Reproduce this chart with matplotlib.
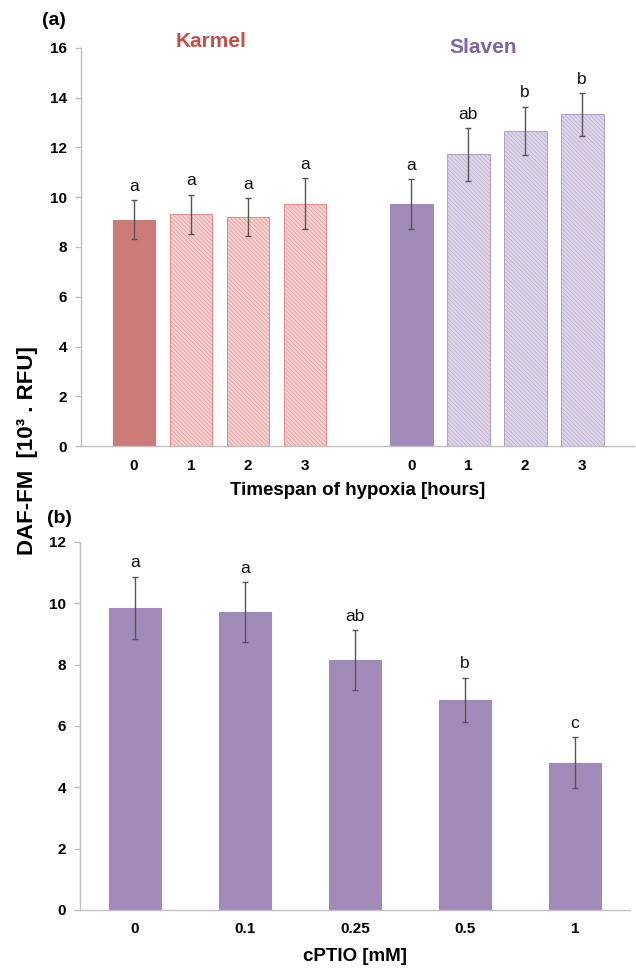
import matplotlib
matplotlib.use("Agg")
import matplotlib.pyplot as plt
import numpy as np

plt.rcParams['font.family'] = ['Liberation Sans', 'DejaVu Sans']
plt.rcParams['hatch.linewidth'] = 0.35

# ---- Panel (a) data ----
hours_labels = ["0", "1", "2", "3", "0", "1", "2", "3"]
karmel_vals = [9.1, 9.32, 9.21, 9.74]
karmel_err = [0.77, 0.79, 0.75, 1.03]
karmel_sig = ["a", "a", "a", "a"]
slaven_vals = [9.72, 11.72, 12.66, 13.34]
slaven_err = [1.0, 1.05, 0.98, 0.86]
slaven_sig = ["a", "ab", "b", "b"]

# ---- Panel (b) data ----
cptio_labels = ["0", "0.1", "0.25", "0.5", "1"]
cptio_vals = [9.85, 9.72, 8.15, 6.86, 4.8]
cptio_err = [1.02, 0.98, 0.97, 0.72, 0.83]
cptio_sig = ["a", "a", "ab", "b", "c"]

red_solid = "#CD7B78"
red_light = "#F2CFCE"
red_edge = "#E28F8D"
pur_solid = "#A08AB8"
pur_light = "#DDD4E8"
pur_edge = "#B3A2C9"
spine_c = "#BFBFBF"

fig = plt.figure(figsize=(6.36, 9.69), dpi=100)

# ================= Panel (a) =================
ax1 = fig.add_axes([0.1274, 0.5397, 0.8696, 0.4108])
kpos = np.arange(4)
spos = np.arange(4) + 4.86
w = 0.75
for i, (p, v) in enumerate(zip(kpos, karmel_vals)):
    if i == 0:
        ax1.bar(p, v, w, color=red_solid, edgecolor=red_solid, linewidth=0.8)
    else:
        ax1.bar(p, v, w, color=red_light, edgecolor=red_edge, hatch="\\\\\\\\\\\\\\\\", linewidth=0.8)
for i, (p, v) in enumerate(zip(spos, slaven_vals)):
    if i == 0:
        ax1.bar(p, v, w, color=pur_solid, edgecolor=pur_solid, linewidth=0.8)
    else:
        ax1.bar(p, v, w, color=pur_light, edgecolor=pur_edge, hatch="\\\\\\\\\\\\\\\\", linewidth=0.8)
allpos = np.concatenate([kpos, spos])
allvals = karmel_vals + slaven_vals
allerr = karmel_err + slaven_err
allsig = karmel_sig + slaven_sig
ax1.errorbar(allpos, allvals, yerr=allerr, fmt="none", ecolor="#555555",
             elinewidth=1.0, capsize=2, capthick=1.0)
for p, v, e, s in zip(allpos, allvals, allerr, allsig):
    ax1.text(p, v + e + 0.25, s, ha="center", va="bottom", fontsize=12.5, color="#111111")

ax1.set_xlim(-0.93, 8.77)
ax1.set_ylim(0, 16)
ax1.set_yticks(np.arange(0, 17, 2))
ax1.set_xticks(allpos)
ax1.set_xticklabels(hours_labels)
ax1.set_xlabel("Timespan of hypoxia [hours]", fontsize=13.5, fontweight="bold", labelpad=7)
ax1.text(1.35, 16.25, "Karmel", ha="center", va="center", fontsize=15,
         fontweight="bold", color="#C0504D", clip_on=False)
ax1.text(6.12, 16.0, "Slaven", ha="center", va="center", fontsize=15,
         fontweight="bold", color="#8064A2", clip_on=False)

# ================= Panel (b) =================
ax2 = fig.add_axes([0.1258, 0.0609, 0.8648, 0.3798])
bpos = np.arange(len(cptio_vals))
ax2.bar(bpos, cptio_vals, 0.47, color=pur_solid, edgecolor=pur_solid, linewidth=0.8)
ax2.errorbar(bpos, cptio_vals, yerr=cptio_err, fmt="none", ecolor="#555555",
             elinewidth=1.0, capsize=2, capthick=1.0)
for p, v, e, s in zip(bpos, cptio_vals, cptio_err, cptio_sig):
    ax2.text(p, v + e + 0.2, s, ha="center", va="bottom", fontsize=12.5, color="#111111")
ax2.set_xlim(-0.5, 4.5)
ax2.set_ylim(0, 12)
ax2.set_yticks(np.arange(0, 13, 2))
ax2.set_xticks(bpos)
ax2.set_xticklabels(cptio_labels)
ax2.set_xlabel("cPTIO [mM]", fontsize=13.5, fontweight="bold", labelpad=8)

for ax in (ax1, ax2):
    for sp in ("top", "right"):
        ax.spines[sp].set_visible(False)
    for sp in ("left", "bottom"):
        ax.spines[sp].set_color(spine_c)
        ax.spines[sp].set_linewidth(1.0)
    ax.tick_params(axis="y", direction="out", length=4, color=spine_c, width=1.0,
                   labelsize=11, pad=6)
    ax.tick_params(axis="x", length=0, labelsize=11, pad=9)
    for lab in ax.get_yticklabels() + ax.get_xticklabels():
        lab.set_fontweight("bold")

fig.text(0.044, 0.535, "DAF-FM  [10³ . RFU]", rotation=90, ha="center",
         va="center", fontsize=16, fontweight="bold")
fig.text(0.085, 0.979, "(a)", ha="center", va="center", fontsize=14, fontweight="bold")
fig.text(0.093, 0.465, "(b)", ha="center", va="center", fontsize=14, fontweight="bold")

fig.savefig("out.png", dpi=100)
